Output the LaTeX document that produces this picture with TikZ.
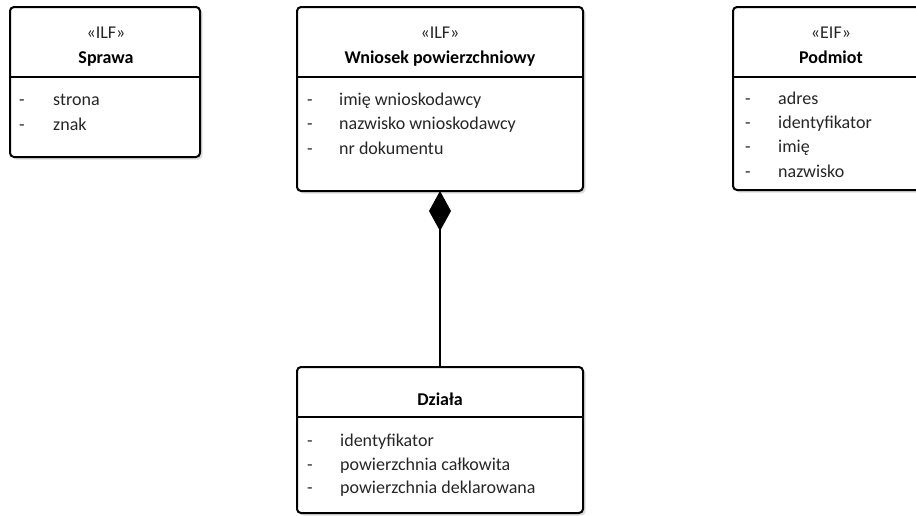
\documentclass[tikz,border=0pt]{standalone}
\usepackage{fontspec}
\setmainfont{Carlito}
\usetikzlibrary{arrows.meta,shadows}

\tikzset{
  classbox/.style={draw, line width=2pt, rounded corners=4pt, fill=white,
    inner sep=0pt, outer sep=0pt,
    drop shadow={shadow xshift=2.5pt, shadow yshift=-2.5pt, fill=gray!45, opacity=0.6}},
  divider/.style={line width=2pt},
  txt/.style={font=\fontsize{18}{22}\selectfont, inner sep=0pt, text=black!85},
  attr/.style={txt, anchor=base west},
  stereo/.style={txt, anchor=base},
  classname/.style={txt, anchor=base, font=\fontsize{18}{22}\selectfont\bfseries, text=black},
  composition/.style={line width=2pt, {Diamond[length=40pt,width=22pt]}-}
}

\begin{document}
\begin{tikzpicture}[x=1pt, y=-1pt]
  \useasboundingbox (0,0) rectangle (916,515);
  \clip (0,0) rectangle (916,515);

  % class boxes
  \node[classbox, minimum width=190pt, minimum height=150pt] (sprawa) at (105,82) {};
  \node[classbox, minimum width=286pt, minimum height=184pt] (wniosek) at (440,99) {};
  \node[classbox, minimum width=196pt, minimum height=183pt] (podmiot) at (831,98.5) {};
  \node[classbox, minimum width=286pt, minimum height=146pt] (dzialka) at (440,440) {};

  % compartment dividers
  \draw[divider] (sprawa.west |- 0,77) -- (sprawa.east |- 0,77);
  \draw[divider] (wniosek.west |- 0,77) -- (wniosek.east |- 0,77);
  \draw[divider] (podmiot.west |- 0,77) -- (podmiot.east |- 0,77);
  \draw[divider] (dzialka.west |- 0,417) -- (dzialka.east |- 0,417);

  % Sprawa
  \node[stereo] (sprawaSt) at (106,38) {«ILF»};
  \node[classname] (sprawaNm) at (106,63) {Sprawa};
  \node[attr] (sprawaD1) at (19,105) {-};
  \node[attr] (sprawaA1) at (53,105) {strona};
  \node[attr] (sprawaD2) at (19,130) {-};
  \node[attr] (sprawaA2) at (53,130) {znak};

  % Wniosek powierzchniowy
  \node[stereo] (wniosekSt) at (440,38) {«ILF»};
  \node[classname] (wniosekNm) at (440,63) {Wniosek powierzchniowy};
  \node[attr] (wniosekD1) at (307,105) {-};
  \node[attr] (wniosekA1) at (339,105) {imię wnioskodawcy};
  \node[attr] (wniosekD2) at (307,129.5) {-};
  \node[attr] (wniosekA2) at (339,129.5) {nazwisko wnioskodawcy};
  \node[attr] (wniosekD3) at (307,154) {-};
  \node[attr] (wniosekA3) at (339,154) {nr dokumentu};

  % Podmiot
  \node[stereo] (podmiotSt) at (831,38) {«EIF»};
  \node[classname] (podmiotNm) at (831,63) {Podmiot};
  \node[attr] (podmiotD1) at (745,104) {-};
  \node[attr] (podmiotA1) at (778,104) {adres};
  \node[attr] (podmiotD2) at (745,128) {-};
  \node[attr] (podmiotA2) at (778,128) {identyfikator};
  \node[attr] (podmiotD3) at (745,152.5) {-};
  \node[attr] (podmiotA3) at (778,152.5) {imię};
  \node[attr] (podmiotD4) at (745,177) {-};
  \node[attr] (podmiotA4) at (778,177) {nazwisko};

  % Działa
  \node[classname] (dzialkaNm) at (440,405) {Działa};
  \node[attr] (dzialkaD1) at (307,446) {-};
  \node[attr] (dzialkaA1) at (340,446) {identyfikator};
  \node[attr] (dzialkaD2) at (307,470) {-};
  \node[attr] (dzialkaA2) at (340,470) {powierzchnia całkowita};
  \node[attr] (dzialkaD3) at (307,493) {-};
  \node[attr] (dzialkaA3) at (340,493) {powierzchnia deklarowana};

  % composition
  \draw[composition] (wniosek.south) -- (dzialka.north);
\end{tikzpicture}
\end{document}
